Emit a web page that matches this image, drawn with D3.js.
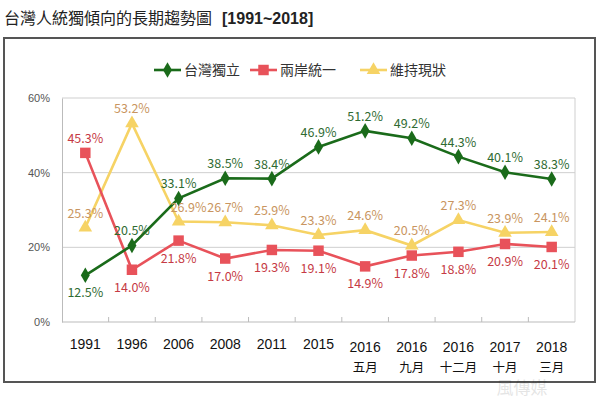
<!DOCTYPE html>
<html>
<head>
<meta charset="utf-8">
<script src="https://cdn.jsdelivr.net/npm/d3@7"></script>
<style>
  body { margin: 0; background: #fff; }
  svg { display: block; font-family: "Noto Sans CJK TC", "Noto Sans", sans-serif; }
</style>
</head>
<body>
<div id="chart"></div>
<script>
const years = ['1991', '1996', '2006', '2008', '2011', '2015', '2016', '2016', '2016', '2017', '2018'];
const months = ['', '', '', '', '', '', '五月', '九月', '十二月', '十月', '三月'];
const independence = [12.5, 20.5, 33.1, 38.5, 38.4, 46.9, 51.2, 49.2, 44.3, 40.1, 38.3];
const unification = [45.3, 14.0, 21.8, 17.0, 19.3, 19.1, 14.9, 17.8, 18.8, 20.9, 20.1];
const statusQuo = [25.3, 53.2, 26.9, 26.7, 25.9, 23.3, 24.6, 20.5, 27.3, 23.9, 24.1];
const yTicks = [0, 20, 40, 60];

const width = 600, height = 399;
const marginTop = 98, marginRight = 25, marginBottom = 77, marginLeft = 62;

const svg = d3.select('#chart').append('svg')
  .attr('width', width)
  .attr('height', height);

// titre
svg.append('text')
  .attr('x', 4).attr('y', 24)
  .style('font-size', '16px').attr('fill', '#222')
  .text('台灣人統獨傾向的長期趨勢圖')
  .append('tspan')
  .attr('dx', 10)
  .style('font-family', 'Liberation Sans, Arial, sans-serif')
  .style('font-weight', 'bold')
  .text('[1991~2018]');

// cadre
svg.append('rect')
  .attr('x', 4).attr('y', 38)
  .attr('width', 591).attr('height', 344)
  .attr('fill', 'none').attr('stroke', '#555').attr('stroke-width', 2);

const idx = d3.range(years.length);
const x = d3.scaleBand()
  .domain(idx)
  .range([marginLeft, width - marginRight]);

const y = d3.scaleLinear()
  .domain([0, 60])
  .range([height - marginBottom, marginTop]);

// grille
svg.append('g')
  .selectAll('line')
  .data(yTicks.filter(t => t > 0))
  .join('line')
  .attr('x1', marginLeft).attr('x2', width - marginRight)
  .attr('y1', d => y(d)).attr('y2', d => y(d))
  .attr('stroke', '#cfcfcf');

svg.append('line')
  .attr('x1', width - marginRight).attr('x2', width - marginRight)
  .attr('y1', marginTop).attr('y2', height - marginBottom)
  .attr('stroke', '#cfcfcf');

svg.append('g')
  .attr('transform', `translate(${marginLeft},0)`)
  .call(d3.axisLeft(y).tickValues(yTicks).tickFormat(d => d + '%').tickSize(0).tickPadding(12))
  .call(g => g.select('.domain').attr('stroke', '#bbb'))
  .selectAll('text')
  .style('font-size', '11px')
  .style('font-family', 'Liberation Sans, Arial, sans-serif')
  .attr('fill', '#555');

// axe x
const xAxis = svg.append('g')
  .attr('transform', `translate(0,${height - marginBottom})`);
xAxis.append('line')
  .attr('x1', marginLeft).attr('x2', width - marginRight)
  .attr('stroke', '#bbb');
xAxis.selectAll('.tk')
  .data(d3.range(1, years.length))
  .join('line')
  .attr('class', 'tk')
  .attr('x1', d => x(d)).attr('x2', d => x(d))
  .attr('y1', 0).attr('y2', -5)
  .attr('stroke', '#bbb');
xAxis.selectAll('.yr')
  .data(idx)
  .join('text')
  .attr('class', 'yr')
  .attr('x', d => x(d) + x.bandwidth() / 2)
  .attr('y', d => months[d] ? 30 : 27)
  .attr('text-anchor', 'middle')
  .style('font-size', '14px')
  .style('font-family', 'Liberation Sans, Arial, sans-serif')
  .attr('fill', '#111')
  .text(d => years[d]);
xAxis.selectAll('.mo')
  .data(idx.filter(i => months[i]))
  .join('text')
  .attr('class', 'mo')
  .attr('x', d => x(d) + x.bandwidth() / 2)
  .attr('y', 50)
  .attr('text-anchor', 'middle')
  .style('font-size', '12.5px')
  .attr('fill', '#111')
  .text(d => months[d]);

const cx = i => x(i) + x.bandwidth() / 2;
const line = d3.line().x((d, i) => cx(i)).y(d => y(d));

const series = [
  { name: '台灣獨立', values: independence, color: '#1a6b1a', label: '#2f6b32', shape: 'diamond',
    pos: v => v === 12.5 ? 'below' : 'above' },
  { name: '兩岸統一', values: unification, color: '#e8525a', label: '#c63a44', shape: 'square',
    pos: v => v === 45.3 ? 'above' : 'below' },
  { name: '維持現狀', values: statusQuo, color: '#f6d365', label: '#c99560', shape: 'triangle',
    pos: v => 'above' }
];

const symbolType = { diamond: d3.symbolDiamond, square: d3.symbolSquare, triangle: d3.symbolTriangle };
const symbolSize = { diamond: 70, square: 110, triangle: 80 };

// ordre de dessin : jaune, rouge, vert
[series[2], series[1], series[0]].forEach(s => {
  svg.append('path')
    .datum(s.values)
    .attr('fill', 'none')
    .attr('stroke', s.color)
    .attr('stroke-width', 2.6)
    .attr('d', line);

  svg.append('g')
    .selectAll('path')
    .data(s.values)
    .join('path')
    .attr('transform', (d, i) => `translate(${cx(i)},${y(d)})`)
    .attr('d', d3.symbol().type(symbolType[s.shape]).size(symbolSize[s.shape]))
    .attr('fill', s.color);
});

series.forEach(s => {
  svg.append('g')
    .selectAll('text')
    .data(s.values)
    .join('text')
    .attr('x', (d, i) => cx(i) + (s.shape === 'triangle' && i === 2 ? 10 : 0))
    .attr('y', d => s.pos(d) === 'above' ? y(d) - 10 : y(d) + 22)
    .attr('text-anchor', 'middle')
    .style('font-size', '12.5px')
    .attr('fill', s.label)
    .text(d => d.toFixed(1) + '%');
});

// légende
const legendX = [154, 250, 360];
const legend = svg.append('g').attr('transform', 'translate(0,70)');
series.forEach((s, i) => {
  const g = legend.append('g').attr('transform', `translate(${legendX[i]},0)`);
  g.append('line').attr('x1', 0).attr('x2', 27).attr('stroke', s.color).attr('stroke-width', 2.6);
  g.append('path')
    .attr('transform', 'translate(13.5,0)')
    .attr('d', d3.symbol().type(symbolType[s.shape]).size(symbolSize[s.shape]))
    .attr('fill', s.color);
  g.append('text')
    .attr('x', 30).attr('y', 5)
    .style('font-size', '14px')
    .attr('fill', '#333')
    .text(s.name);
});

// filigrane
svg.append('text')
  .attr('x', 522).attr('y', 394)
  .attr('text-anchor', 'middle')
  .style('font-size', '17px')
  .attr('fill', '#000').attr('opacity', 0.1)
  .text('風傳媒');
</script>
</body>
</html>
